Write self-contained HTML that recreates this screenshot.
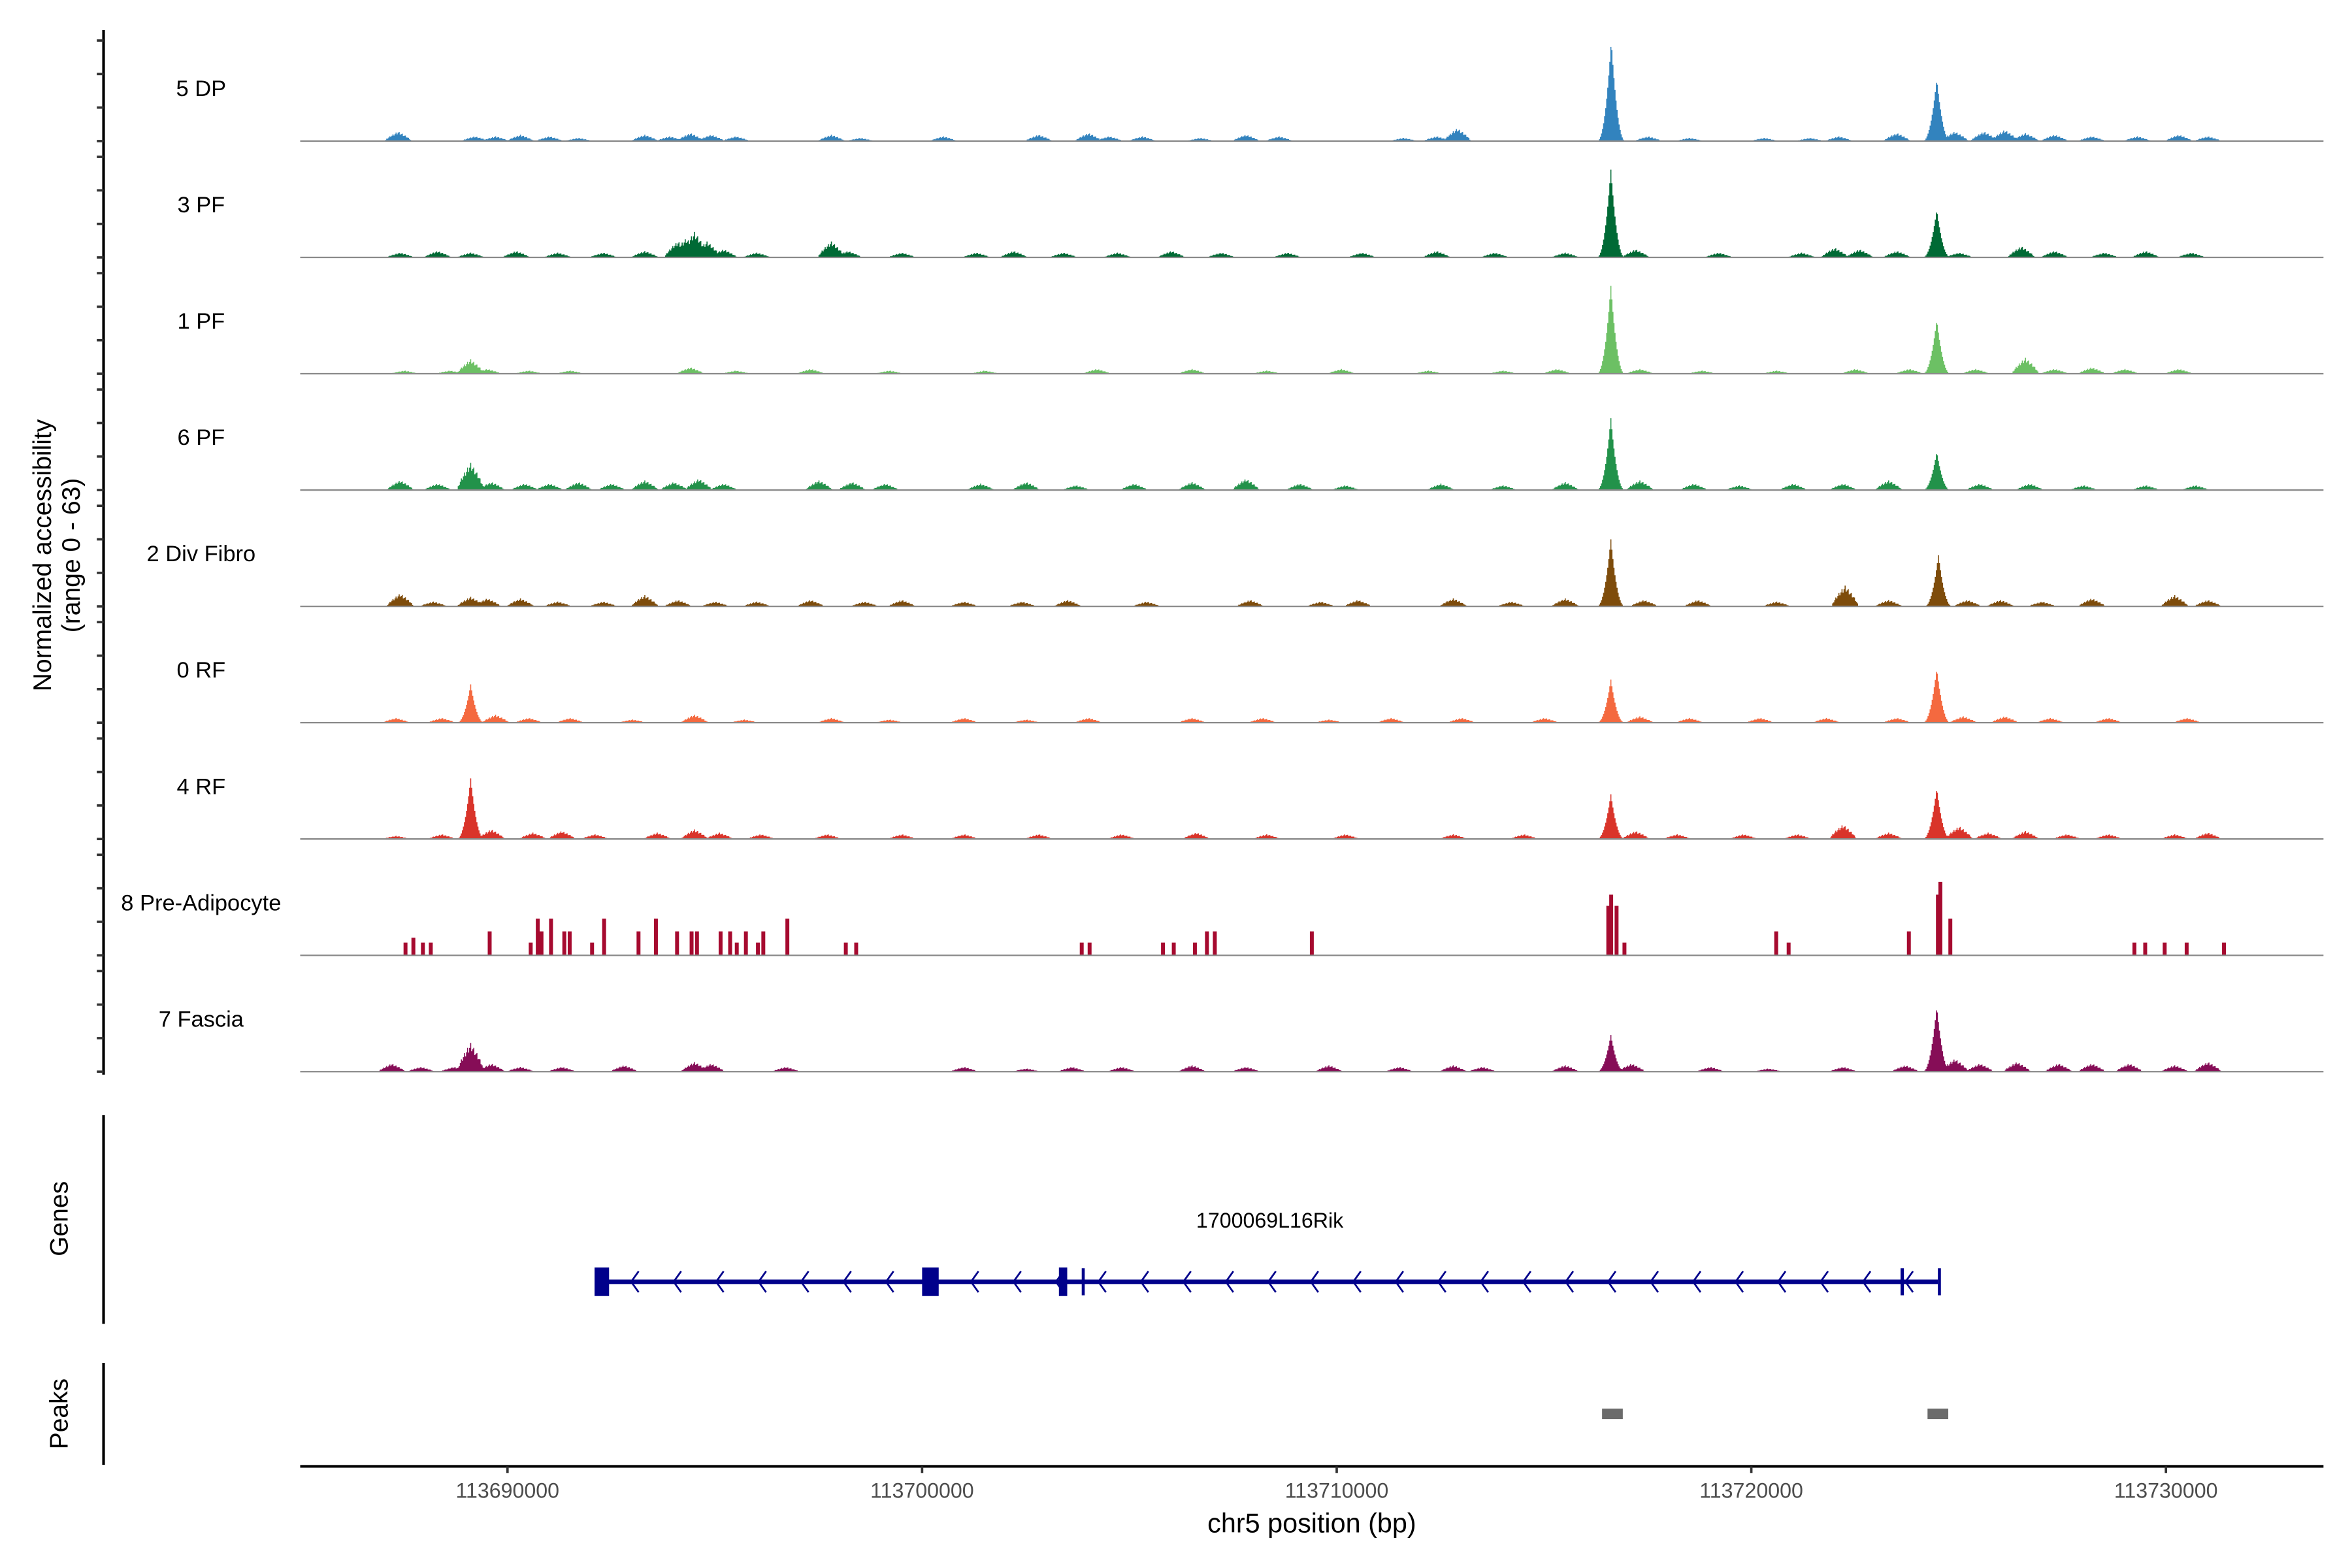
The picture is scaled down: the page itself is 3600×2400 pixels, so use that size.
<!DOCTYPE html>
<html><head><meta charset="utf-8">
<style>
html,body{margin:0;padding:0;background:#fff;}
svg{display:block;font-family:"Liberation Sans",Arial,sans-serif;}
</style></head>
<body>
<svg id="chart" width="3600" height="2400" viewBox="0 0 1567 1044.7" preserveAspectRatio="none" xmlns="http://www.w3.org/2000/svg">
<rect x="0" y="0" width="1567" height="1045" fill="#fff"/>
<g id="tracks"></g>
<g id="leftaxis"></g>
<text transform="translate(34,370) rotate(-90)" text-anchor="middle" font-size="17" fill="#000">Normalized accessibility</text>
<text transform="translate(53,370) rotate(-90)" text-anchor="middle" font-size="17" fill="#000">(range 0 - 63)</text>
<g id="genes"></g>
<g id="peaks"></g>
<g id="xaxis"></g>
</svg>
<script>
// ---- data (positions in kb offset from 113685000, heights in normalized units 0-63) ----
const START = 113685000;
const END = 113733800;
const trackNames = ["5 DP","3 PF","1 PF","6 PF","2 Div Fibro","0 RF","4 RF","8 Pre-Adipocyte","7 Fascia"];
const trackColors = ["#3283be","#006a35","#6cc064","#22924a","#7e4c0b","#f4693f","#d9342a","#a60a2f","#860d57"];
const yTicks = [0,21,42,63];
const xTicks = [113690000,113700000,113710000,113720000,113730000];
const xTickLabels = ["113690000","113700000","113710000","113720000","113730000"];

const dp5 = [[2.35,6],[4.2,3],[4.7,3],[5.3,4],[6,3],[6.7,2],[8.3,4],[8.9,3],[9.4,5],[9.9,4],[10.5,3],[12.8,4],[13.5,2],[15.5,3],[17.8,4],[19,5],[19.5,3],[20.3,3],[21.7,2],[22.8,4],[23.6,3],[26.6,2],[27.4,3],[27.9,8],[31.61,63],[32.5,3],[33.5,2],[35.3,2],[36.4,2],[37.1,3],[38.5,5],[39.46,39],[39.9,6],[40.6,6],[41.1,7],[41.6,5],[42.3,4],[43.2,3],[44.3,3],[45.3,4],[46,3]];
const pf3 = [[2.4,3],[3.3,4],[4.1,3],[5.2,4],[6.2,3],[7.3,3],[8.3,4],[9.1,10],[9.3,12],[9.5,16],[9.8,10],[10.2,5],[11,3],[12.8,10],[13.2,4],[14.5,3],[16.3,3],[17.2,4],[18.4,3],[19.7,3],[21,4],[22.2,3],[23.8,3],[25.6,3],[27.4,4],[28.8,3],[30.5,3],[31.6,55],[32.2,5],[34.2,3],[36.2,3],[37.0,6],[37.6,5],[38.5,4],[39.46,30],[40,3],[41.5,7],[42.3,4],[43.5,3],[44.5,4],[45.6,3]];
const pf1 = [[2.5,2],[3.6,2],[4.1,9],[4.5,3],[5.5,2],[6.5,2],[9.4,4],[10.5,2],[12.3,3],[14.2,2],[16.5,2],[19.2,3],[21.5,3],[23.3,2],[25.1,3],[27.2,2],[29,2],[30.3,3],[31.6,55],[32.3,3],[33.8,2],[35.6,2],[37.5,3],[38.8,3],[39.46,34],[40.4,3],[41.6,10],[42.3,3],[43.2,4],[44,3],[45.3,3]];
const pf6 = [[2.4,6],[3.3,4],[4.1,17],[4.6,5],[5.4,4],[6.0,4],[6.7,5],[7.5,4],[8.3,6],[9.0,5],[9.6,7],[10.2,4],[12.5,6],[13.3,5],[14.1,4],[16.4,4],[17.5,5],[18.7,3],[20.1,4],[21.5,5],[22.8,7],[24.1,4],[25.2,3],[27.5,4],[29.0,3],[30.5,5],[31.6,45],[32.3,6],[33.6,4],[34.7,3],[36.0,4],[37.2,4],[38.3,6],[39.46,24],[40.5,4],[41.7,4],[43,3],[44.5,3],[45.7,3]];
const divFibro2 = [[2.4,8],[3.2,3],[4.1,6],[4.5,5],[5.3,5],[6.2,3],[7.3,3],[8.3,7],[9.1,4],[10,3],[11,3],[12.3,4],[13.6,3],[14.5,4],[16.0,3],[17.4,3],[18.5,4],[20.4,3],[22.9,4],[24.6,3],[25.5,4],[27.8,5],[29.2,3],[30.5,5],[31.6,42],[32.4,4],[33.7,4],[35.6,3],[37.25,13],[38.3,4],[39.5,32],[40.2,4],[41,4],[42,3],[43.2,5],[45.2,7],[46.0,4]];
const rf0 = [[2.3,3],[3.4,3],[4.1,24],[4.7,5],[5.5,3],[6.5,3],[8.0,2],[9.5,5],[10.7,2],[12.8,3],[14.2,2],[16.0,3],[17.5,2],[19.0,3],[21.5,3],[23.2,3],[24.8,2],[26.3,3],[28,3],[30.0,3],[31.6,27],[32.3,4],[33.5,3],[35.2,3],[36.8,3],[38.5,3],[39.46,34],[40.1,4],[41.1,4],[42.2,3],[43.6,3],[45.5,3]];
const rf4 = [[2.3,2],[3.4,3],[4.1,38],[4.6,6],[5.6,4],[6.3,5],[7.1,3],[8.6,4],[9.5,6],[10.1,4],[11.1,3],[12.7,3],[14.5,3],[16.0,3],[17.8,3],[19.8,3],[21.6,4],[23.3,3],[25.2,3],[27.8,3],[29.5,3],[31.6,28],[32.2,5],[33.2,3],[34.8,3],[36.1,3],[37.2,9],[38.3,4],[39.46,32],[40,8],[40.7,4],[41.6,5],[42.6,3],[43.6,3],[45.2,3],[46,4]];
const preAdipo8 = [[2.54,8],[2.73,11],[2.96,8],[3.15,8],[4.57,15],[5.56,8],[5.73,23],[5.82,15],[6.05,23],[6.37,15],[6.5,15],[7.04,8],[7.33,23],[8.16,15],[8.58,23],[9.09,15],[9.44,15],[9.57,15],[10.14,15],[10.37,15],[10.53,8],[10.75,15],[11.04,8],[11.17,15],[11.75,23],[13.16,8],[13.41,8],[18.85,8],[19.04,8],[20.81,8],[21.07,8],[21.58,8],[21.87,15],[22.06,15],[24.4,15],[31.55,31],[31.62,38],[31.75,31],[31.94,8],[35.6,15],[35.9,8],[38.8,15],[39.5,38],[39.56,46],[39.8,23],[44.24,8],[44.5,8],[44.97,8],[45.5,8],[46.4,8]];
const fascia7 = [[2.2,5],[2.9,3],[3.7,3],[4.1,18],[4.6,5],[5.3,3],[6.3,3],[7.8,4],[9.5,6],[9.9,5],[11.7,3],[16.0,3],[17.5,2],[18.6,3],[19.8,3],[21.5,4],[22.8,3],[24.8,4],[26.5,3],[27.8,4],[28.5,3],[30.5,4],[31.6,23],[32.1,5],[34,3],[35.4,2],[37.2,3],[38.7,4],[39.46,41],[39.9,8],[40.5,5],[41.4,6],[42.4,5],[43.2,5],[44.1,5],[45.2,4],[46,6]];
const trackData = [dp5,pf3,pf1,pf6,divFibro2,rf0,rf4,preAdipo8,fascia7];

// gene model (kb offsets)
const geneStart = 7.15, geneEnd = 39.5;
const exons = [[7.1,7.45],[15.0,15.4],[18.3,18.5],[18.85,18.9],[38.6,38.68],[39.5,39.56]];
const exonTall = [true,true,true,false,false,false];
const peakRegions = [[31.4,31.9],[39.25,39.75]];

// ---- scales ----
const X0 = 200, X1 = 1548;
function xs(kb){ return X0 + (kb*1000) / (END-START) * (X1-X0); }
function xsAbs(bp){ return xs((bp-START)/1000); }
const BASE0 = 94, STEP = 77.5, HPX = 67;
function ys(i,v){ return BASE0 + i*STEP - v/63*HPX; }
const NS = "http://www.w3.org/2000/svg";
function mk(tag, attrs, parent){ const e=document.createElementNS(NS,tag); for(const k in attrs) e.setAttribute(k,attrs[k]); parent.appendChild(e); return e; }

const gT = document.getElementById('tracks');
trackData.forEach((peaks,i)=>{
  const base = ys(i,0);
  const g = mk('g',{},gT);
  
  
  const lbl = mk('text',{x:134,y:base-30,'text-anchor':'middle','font-size':15,fill:'#000'},g);
  lbl.textContent = trackNames[i];
  
  
  const color = trackColors[i];
  if(i===7){
    peaks.forEach(p=>{
      const r = mk('rect',{x:xs(p[0])-1.3,y:ys(i,p[1]),width:2.6,height:base-ys(i,p[1]),fill:color},g);
      
      
    });
  } else {
    const binKb = 0.025;
    const nb = Math.round((END-START)/1000/binKb);
    const vals = new Array(nb).fill(0);
    peaks.forEach(p=>{
      const big = p[1]>20;
      const w = big ? 0.34 : 0.32;
      for(let b=0;b<nb;b++){
        const d = Math.abs(b*binKb - p[0]);
        if(d<w){
          const f = 1-d/w;
          const v = big ? p[1]*Math.pow(f,2.2) : p[1]*Math.pow(f,0.7)*(0.75+0.25*((b%3)/2));
          if(v>vals[b]) vals[b]=v;
        }
      }
    });
    let dstr = 'M'+xs(0)+','+base;
    for(let b=0;b<nb;b++){ const y=ys(i,vals[b]); dstr+='L'+xs(b*binKb).toFixed(2)+','+y.toFixed(2)+'L'+xs((b+1)*binKb).toFixed(2)+','+y.toFixed(2); }
    dstr+='L'+xs(nb*binKb)+','+base+'Z';
    const a = mk('path',{d:dstr,fill:color,stroke:'none'},g);
    
    
  }
  const bl = mk('line',{x1:X0,x2:X1,y1:base,y2:base,stroke:'#8a8a8a','stroke-width':1},g);
  
  
});

// left axis
const gL = document.getElementById('leftaxis');
const al = mk('line',{x1:69,x2:69,y1:20,y2:716,stroke:'#000','stroke-width':1.8},gL);


for(let i=0;i<trackData.length;i++){
  yTicks.forEach(v=>{
    const t = mk('line',{x1:64.5,x2:69,y1:ys(i,v),y2:ys(i,v),stroke:'#333','stroke-width':1.6},gL);
    
    
  });
}

// genes
const gG = document.getElementById('genes');
const ga = mk('line',{x1:69,x2:69,y1:743,y2:882,stroke:'#000','stroke-width':1.8},gG);


const gt = mk('text',{transform:'translate(45,812) rotate(-90)','text-anchor':'middle','font-size':17,fill:'#000'},gG);
gt.textContent='Genes';


const gn = mk('text',{x:846,y:818,'text-anchor':'middle','font-size':14,fill:'#000'},gG);
gn.textContent='1700069L16Rik';


const gl = mk('line',{x1:xs(geneStart),x2:xs(geneEnd),y1:854,y2:854,stroke:'#00008b','stroke-width':3},gG);


for(let x=xs(geneStart)+25; x<xs(geneEnd)-4; x+=28.3){
  const c = mk('polyline',{points:(x+3)+',847 '+(x-2)+',854 '+(x+3)+',861',fill:'none',stroke:'#00008b','stroke-width':1.2},gG);
  
  
}
exons.forEach((e,k)=>{
  const x1=xs(e[0]), x2=xs(e[1]);
  const tall = exonTall[k];
  const w = Math.max(x2-x1, 2);
  const r = mk('rect',{x:x1,y:tall?844.5:845,width:w,height:tall?19:18,fill:'#00008b'},gG);
  
  
});

// peaks
const gP = document.getElementById('peaks');
const pa = mk('line',{x1:69,x2:69,y1:908,y2:976,stroke:'#000','stroke-width':1.8},gP);


const pt = mk('text',{transform:'translate(45,942) rotate(-90)','text-anchor':'middle','font-size':17,fill:'#000'},gP);
pt.textContent='Peaks';


peakRegions.forEach(p=>{
  const r = mk('rect',{x:xs(p[0]),y:938.5,width:xs(p[1])-xs(p[0]),height:7,fill:'#6b6b6b'},gP);
  
  
});

// x axis
const gX = document.getElementById('xaxis');
const xl = mk('line',{x1:X0,x2:X1,y1:977,y2:977,stroke:'#000','stroke-width':1.8},gX);


xTicks.forEach((t,k)=>{
  const x = xsAbs(t);
  const tk = mk('line',{x1:x,x2:x,y1:977,y2:981.5,stroke:'#333','stroke-width':1.6},gX);
  
  
  const tl = mk('text',{x:x,y:998,'text-anchor':'middle','font-size':14,fill:'#4d4d4d'},gX);
  tl.textContent = xTickLabels[k];
  
  
});
const xt = mk('text',{x:874,y:1021,'text-anchor':'middle','font-size':18,fill:'#000'},gX);
xt.textContent='chr5 position (bp)';


</script>
</body></html>
